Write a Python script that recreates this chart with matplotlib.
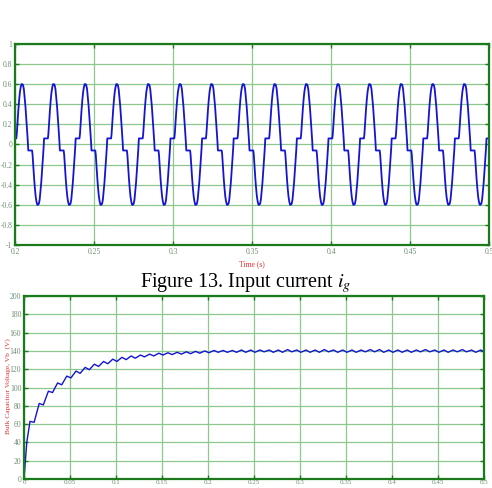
import numpy as np
import matplotlib
matplotlib.use("Agg")
import matplotlib.pyplot as plt

# ---- top chart: input current, one period (ms after a peak)
half_ms = [0.0, 0.5, 1.0, 1.5, 2.0, 2.5, 3.0, 3.5, 3.8, 6.2, 6.5, 7.0, 7.5, 8.0, 8.5, 9.0, 9.5]
half_val = [0.60, 0.59, 0.55, 0.47, 0.38, 0.27, 0.15, 0.03, -0.06, -0.06, -0.10, -0.22, -0.34, -0.44, -0.52, -0.57, -0.60]
first_peak = 0.2046
period = 0.02
n_cycles = 17

# ---- bottom chart: bulk capacitor voltage, peaks and troughs per 10 ms cycle
peak_v = [63, 82.5, 96, 105, 112.5, 118, 122, 125.5, 128.5, 131,
          133, 134.5, 135.5, 136.5, 137.5, 138, 138.5, 139, 139.5, 140,
          140.5, 140.5, 140.5, 141, 141, 141, 141, 141, 141.5, 141,
          141, 141, 141.5, 141, 141, 141, 141, 141.5, 141.5, 141,
          141, 141, 141, 141.5, 141, 141, 141, 141.5, 141, 141]
trough_v = [62, 81, 94.5, 103, 110.5, 115.5, 119.5, 123, 126, 128.5,
            130.5, 132, 133.5, 134.5, 135.5, 136, 136.5, 137, 137.5, 138,
            138.5, 138.5, 138.5, 138.5, 138.5, 139, 138.5, 138.5, 139, 138.5,
            138.5, 138.5, 139, 138.5, 138.5, 138.5, 139, 139, 138.5, 138.5,
            138.5, 138.5, 139, 139, 138.5, 138.5, 139, 139, 138.5, 138.5]

# build the current trace
cyc_t = np.array(half_ms + [h + 10 for h in half_ms]) / 1000.0
cyc_v = np.array(half_val + [-v for v in half_val])
t_top = np.concatenate([first_peak + (k - 1) * period + cyc_t for k in range(n_cycles)])
i_top = np.tile(cyc_v, n_cycles)

# build the voltage trace
t_bot = [0.0, 0.003]
v_bot = [0.0, 40.0]
for k in range(len(peak_v)):
    t_bot += [0.01 * k + 0.0065, 0.01 * k + 0.011]
    v_bot += [peak_v[k], trough_v[k]]

frame_c = "#1b7a1b"
grid_c = "#8cc88c"
tick_c = "#6f8f6f"
line_c = "#1414d2"
plt.rcParams["font.family"] = ["Liberation Serif", "DejaVu Serif"]

fig = plt.figure(figsize=(4.92, 4.88), dpi=100)

def style(ax):
    for s in ax.spines.values():
        s.set_color(frame_c)
        s.set_linewidth(1.6)
    ax.grid(True, color=grid_c, linewidth=0.9)
    ax.set_axisbelow(True)
    ax.tick_params(direction="in", length=3, width=1, color=frame_c,
                   labelcolor=tick_c, labelsize=5.5, top=True, right=True, pad=2)

ax1 = fig.add_axes([0.0305, 0.498, 0.9635, 0.412])
ax1.plot(t_top, i_top, color=line_c, linewidth=1.3)
ax1.set_xlim(0.2, 0.5)
ax1.set_ylim(-1, 1)
ax1.set_xticks([0.2, 0.25, 0.3, 0.35, 0.4, 0.45, 0.5])
ax1.set_xticklabels(["0.2", "0.25", "0.3", "0.35", "0.4", "0.45", "0.5"])
ax1.set_yticks(np.round(np.arange(-1, 1.01, 0.2), 1))
ax1.set_yticklabels(["-1", "-0.8", "-0.6", "-0.4", "-0.2", "0", "0.2", "0.4", "0.6", "0.8", "1"])
style(ax1)
ax1.set_xlabel("Time (s)", color="#e03030", fontsize=5.5, labelpad=3)

fig.text(0.5, 0.419, "Figure 13. Input current $i_g$", ha="center", va="center",
         fontsize=14.5, math_fontfamily="stix")

ax2 = fig.add_axes([0.0488, 0.0184, 0.9349, 0.375])
ax2.plot(t_bot, v_bot, color=line_c, linewidth=1.0)
ax2.set_xlim(0, 0.5)
ax2.set_ylim(0, 200)
ax2.set_xticks([0, 0.05, 0.1, 0.15, 0.2, 0.25, 0.3, 0.35, 0.4, 0.45, 0.5])
ax2.set_xticklabels(["0", "0.05", "0.1", "0.15", "0.2", "0.25", "0.3", "0.35", "0.4", "0.45", "0.5"])
ax2.set_yticks(range(0, 201, 20))
style(ax2)
ax2.tick_params(axis="x", pad=1, labelsize=5)
ax2.set_ylabel("Bulk Capacitor Voltage, Vb  (V)", color="#e03030", fontsize=5.3)
ax2.yaxis.set_label_coords(-0.029, 0.51)

fig.savefig("out.png", dpi=100)
